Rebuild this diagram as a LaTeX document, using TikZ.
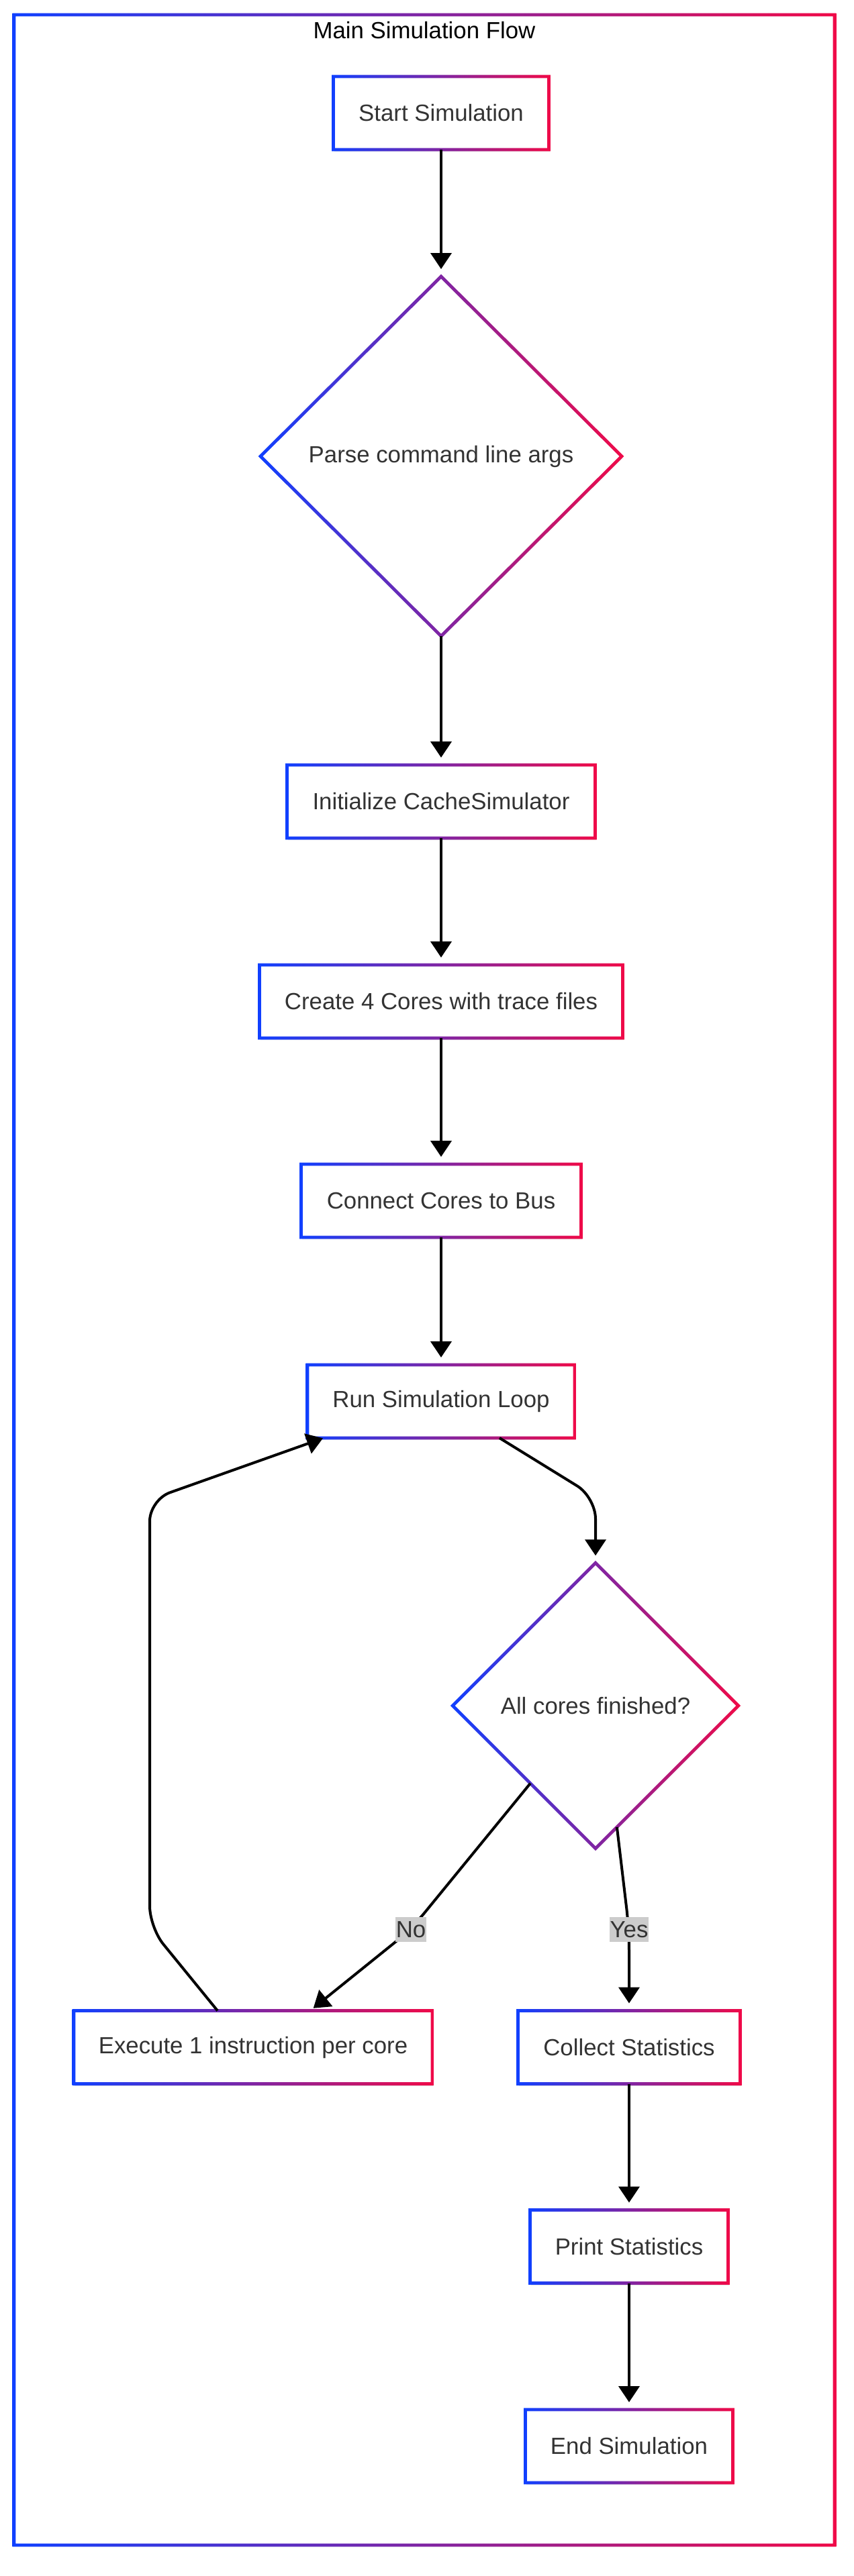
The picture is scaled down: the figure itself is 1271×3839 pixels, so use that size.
\documentclass[tikz,border=0pt]{standalone}
\usepackage{fontspec}
\setmainfont{Liberation Sans}
\usetikzlibrary{arrows.meta,shapes.geometric,shadows}
\definecolor{gblue}{RGB}{16,64,255}
\definecolor{gred}{RGB}{240,10,72}
\definecolor{txtgray}{RGB}{51,51,51}
\definecolor{lblgray}{RGB}{204,204,204}
% gradient border (blue -> red) around a rectangular node
\newcommand\gradrect[1]{%
  \begin{scope}[even odd rule]
    \clip ([shift={(-1.2pt,-1.2pt)}]#1.south west) rectangle ([shift={(1.2pt,1.2pt)}]#1.north east)
      ([shift={(1.2pt,1.2pt)}]#1.south west) rectangle ([shift={(-1.2pt,-1.2pt)}]#1.north east);
    \shade[left color=gblue, right color=gred] ([shift={(-1.2pt,-1.2pt)}]#1.south west) rectangle ([shift={(1.2pt,1.2pt)}]#1.north east);
  \end{scope}}
% gradient border around a diamond node
\newcommand\graddiam[1]{%
  \begin{scope}[even odd rule]
    \clip ([xshift=-1.7pt]#1.west) -- ([yshift=1.7pt]#1.north) -- ([xshift=1.7pt]#1.east) -- ([yshift=-1.7pt]#1.south) -- cycle
      ([xshift=1.7pt]#1.west) -- ([yshift=-1.7pt]#1.north) -- ([xshift=-1.7pt]#1.east) -- ([yshift=1.7pt]#1.south) -- cycle;
    \shade[left color=gblue, right color=gred] ([xshift=-1.8pt]#1.west) -- ([yshift=1.8pt]#1.north) -- ([xshift=1.8pt]#1.east) -- ([yshift=-1.8pt]#1.south) -- cycle;
  \end{scope}}
\begin{document}
\begin{tikzpicture}[x=0.5pt,y=-0.5pt,
  nodefont/.style={font=\fontsize{17.4pt}{20pt}\selectfont},
  box/.style={rectangle, inner sep=0pt, outer sep=0pt, fill=white, text=txtgray, nodefont,
    minimum height=54.5pt, drop shadow={shadow xshift=0.5pt, shadow yshift=-1.5pt, opacity=0.10, fill=black}},
  dia/.style={diamond, inner sep=0pt, outer sep=0pt, fill=white, text=txtgray, nodefont,
    drop shadow={shadow xshift=0.5pt, shadow yshift=-1.5pt, opacity=0.10, fill=black}},
  framebox/.style={rectangle, inner sep=0pt, outer sep=0pt},
  conn/.style={line width=2pt, draw=black, -{Triangle[length=12pt,width=15.5pt]}, rounded corners=16pt, shorten >=5.5pt},
  lbl/.style={fill=lblgray, text=txtgray, nodefont, inner xsep=0.5pt, inner ysep=3pt},
  titlestyle/.style={text=black, nodefont, inner sep=0pt}
]
\useasboundingbox (0,0) rectangle (1271,3839);
\fill[white] (0,0) rectangle (1271,3839);

% container
\node[framebox, minimum width=611pt, minimum height=1885.5pt] (frame) at (632,1907.5) {};
\gradrect{frame}
\node[titlestyle] (title) at (632,45) {Main Simulation Flow};

% nodes
\node[box, minimum width=160.5pt] (start) at (657,168.5) {Start Simulation};
\node[dia, minimum width=269pt, minimum height=268pt] (parse) at (657,680) {Parse command line args};
\node[box, minimum width=229.5pt] (init) at (657,1194.5) {Initialize CacheSimulator};
\node[box, minimum width=270.5pt] (create) at (657,1492.5) {Create 4 Cores with trace files};
\node[box, minimum width=208.5pt] (connect) at (657,1789.5) {Connect Cores to Bus};
\node[box, minimum width=199pt] (run) at (657,2088.5) {Run Simulation Loop};
\node[dia, minimum width=212.7pt, minimum height=212.7pt] (all) at (887,2542) {All cores finished?};
\node[box, minimum width=267pt] (exec) at (377,3051) {Execute 1 instruction per core};
\node[box, minimum width=165.5pt] (collect) at (937,3051) {Collect Statistics};
\node[box, minimum width=147.5pt] (print) at (937,3348) {Print Statistics};
\node[box, minimum width=154.5pt] (end) at (937,3645.5) {End Simulation};

\gradrect{start}
\graddiam{parse}
\gradrect{init}
\gradrect{create}
\gradrect{connect}
\gradrect{run}
\graddiam{all}
\gradrect{exec}
\gradrect{collect}
\gradrect{print}
\gradrect{end}

% connectors
\draw[conn] (start.south) -- (parse.north);
\draw[conn] (parse.south) -- (init.north);
\draw[conn] (init.south) -- (create.north);
\draw[conn] (create.south) -- (connect.north);
\draw[conn] (connect.south) -- (run.north);
\draw[conn] ([xshift=43.5pt]run.south) -- ([yshift=49pt]all.north) -- (all.north);

\coordinate (nocorner) at ([shift={(117.5pt,60.5pt)}]exec.north);
\coordinate (yescorner) at ([yshift=60.5pt]collect.north);
\draw[conn, shorten >=3pt] (all.-130) -- (nocorner) -- ([xshift=42.5pt]exec.north);
\draw[conn] (all.-80) -- (yescorner) -- (collect.north);
\node[lbl] (nolbl) at (nocorner) {No};
\node[lbl] (yeslbl) at (yescorner) {Yes};

\coordinate (loopa) at ([shift={(-77pt,62pt)}]exec.north);
\coordinate (loopb) at ([shift={(-217pt,-46pt)}]run.south);
\draw[conn, shorten >=0.5pt] ([xshift=-26.5pt]exec.north) -- (loopa) -- (loopb) -- ([xshift=-87.5pt]run.south);

\draw[conn] (collect.south) -- (print.north);
\draw[conn] (print.south) -- (end.north);
\end{tikzpicture}
\end{document}
